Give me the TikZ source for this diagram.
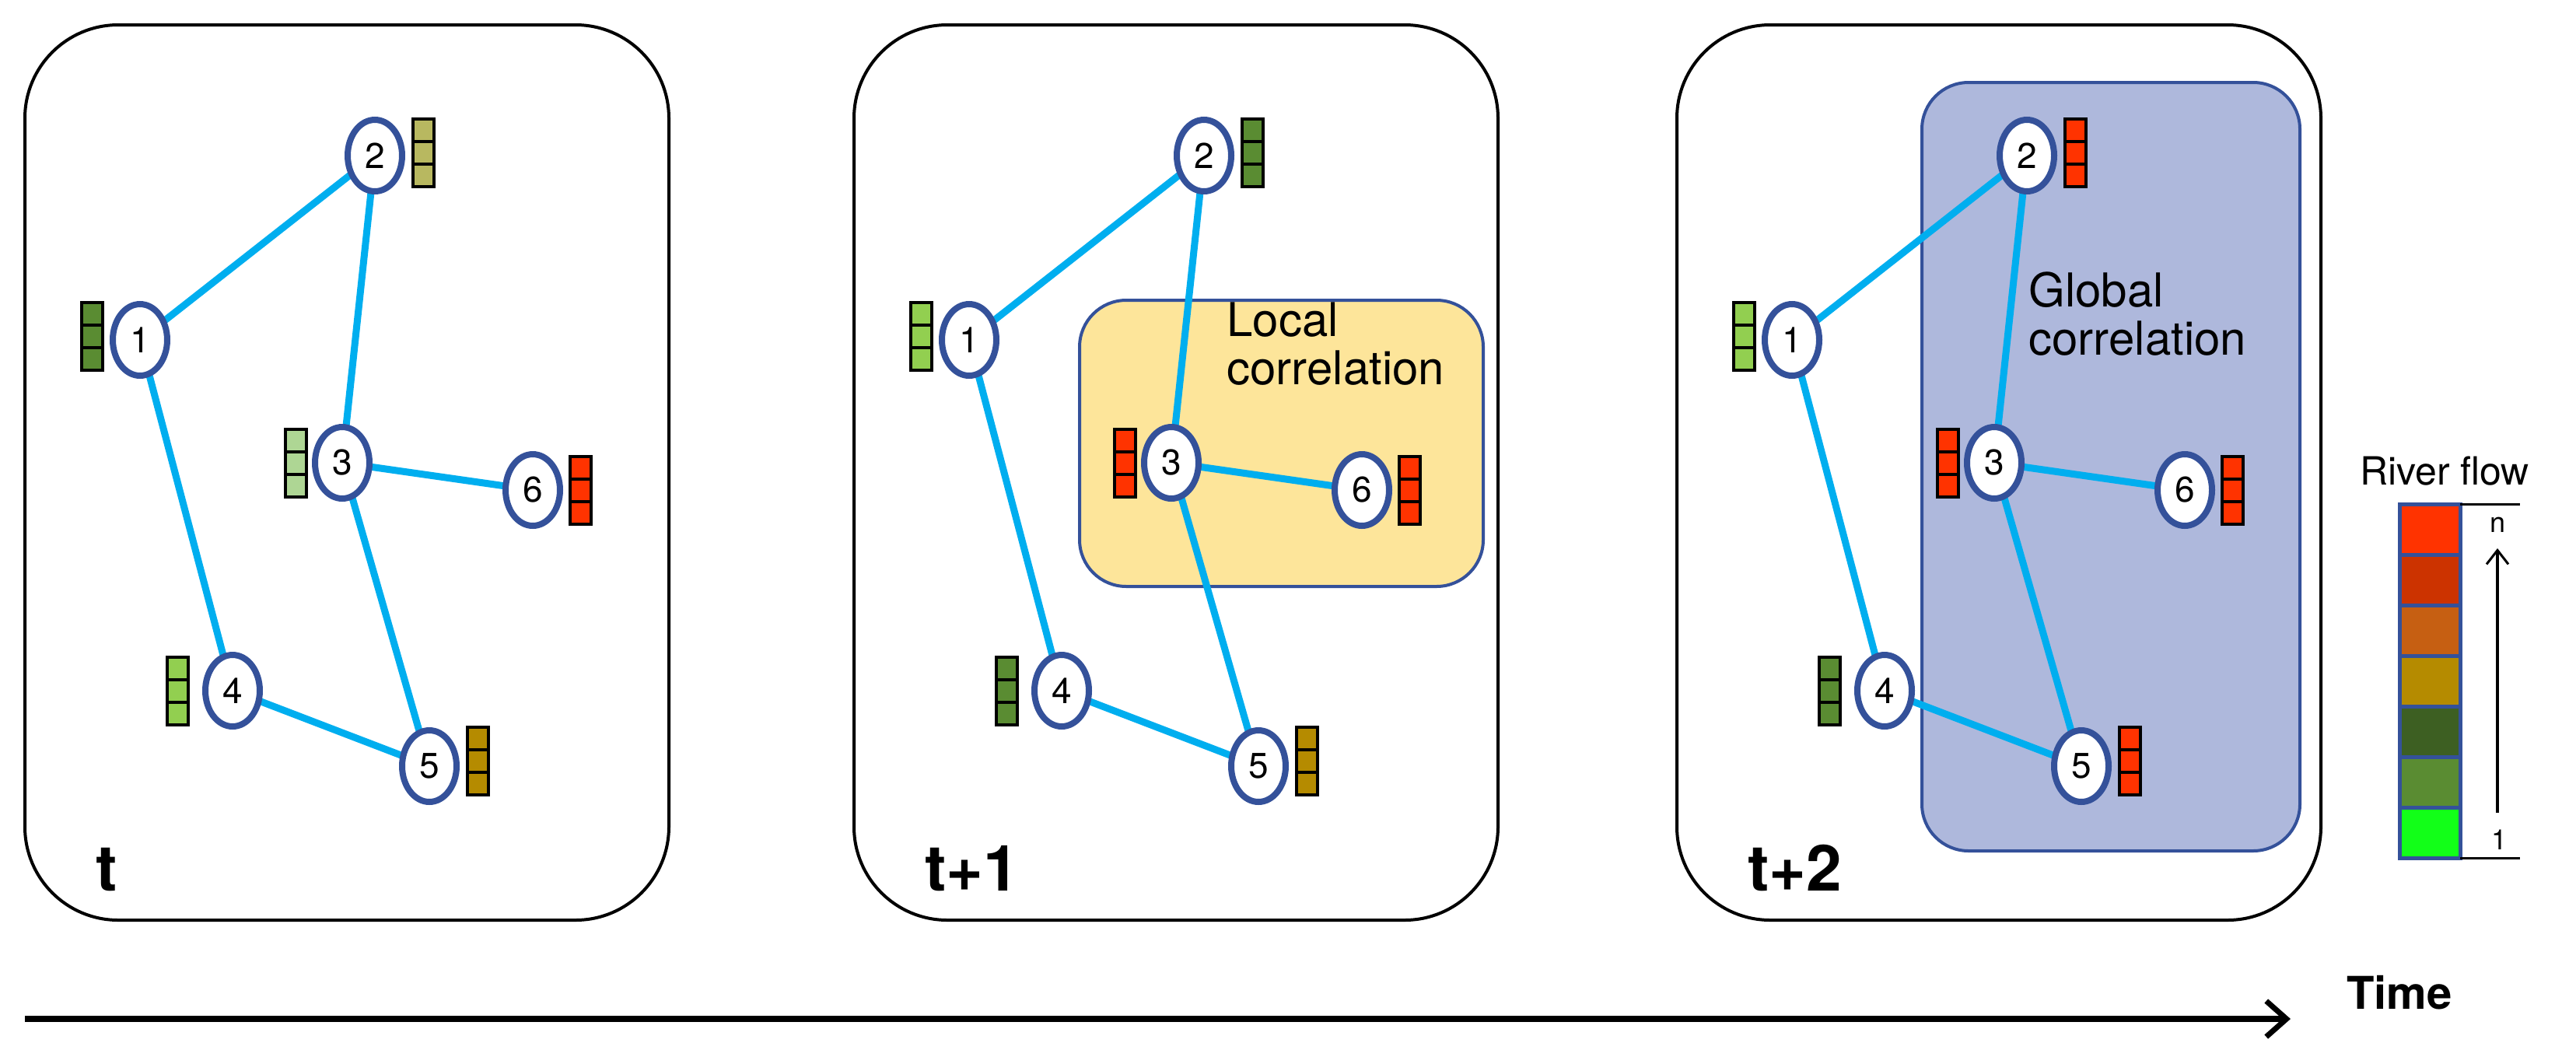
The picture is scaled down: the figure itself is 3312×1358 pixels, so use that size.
\documentclass[tikz,border=0pt]{standalone}
\usepackage{fontspec}
\setmainfont{TeX Gyre Heros}
\usetikzlibrary{shapes.geometric,arrows.meta}
\definecolor{edgeblue}{HTML}{00AEEF}
\definecolor{nodeblue}{HTML}{34519A}
\definecolor{cRed}{HTML}{FF3300}
\definecolor{cDkRed}{HTML}{CC3300}
\definecolor{cOrange}{HTML}{C65F12}
\definecolor{cGold}{HTML}{B58B00}
\definecolor{cDkGreen}{HTML}{3D5F22}
\definecolor{cGreen}{HTML}{5A8C32}
\definecolor{cLime}{HTML}{12FF18}
\definecolor{cLtGreen}{HTML}{92CF50}
\definecolor{cPale}{HTML}{AED694}
\definecolor{cOlive}{HTML}{B8B860}
\definecolor{localfill}{HTML}{FDE59A}
\definecolor{globalfill}{HTML}{AEB8DC}
\tikzset{
  gn/.style={ellipse,draw=nodeblue,line width=8pt,fill=white,minimum width=70pt,minimum height=92pt,inner sep=0pt,font=\fontsize{46}{46}\selectfont},
  ed/.style={edgeblue,line width=9pt},
  panel/.style={draw=black,line width=4pt,rounded corners=120pt},
  cell/.style={draw=black,line width=4pt,minimum width=27pt,minimum height=29pt,inner sep=0pt,anchor=center},
  plabel/.style={font=\fontsize{82}{82}\selectfont\bfseries,anchor=base west},
  corr/.style={draw=nodeblue,line width=4pt,rounded corners=60pt},
  corrtext/.style={font=\fontsize{60}{62}\selectfont,align=left,anchor=north west},
  lcell/.style={draw=nodeblue,line width=5pt,minimum width=78pt,minimum height=65pt,inner sep=0pt},
}
\newcommand{\mybar}[4]{% name, x, y, color
  \node[cell,fill=#4] (#1a) at (#2,#3-29) {};
  \node[cell,fill=#4] (#1b) at (#2,#3) {};
  \node[cell,fill=#4] (#1c) at (#2,#3+29) {};
}
\newcommand{\mygraph}[8]{% prefix, dx, colors 1..6
  \begin{scope}[xshift=#2]
  \node[gn] (#1n1) at (180,437) {1};
  \node[gn] (#1n2) at (482,200) {2};
  \node[gn] (#1n3) at (440,595) {3};
  \node[gn] (#1n6) at (685,630) {6};
  \node[gn] (#1n4) at (299,888) {4};
  \node[gn] (#1n5) at (552,985) {5};
  \mybar{#1b1}{118}{432}{#3}
  \mybar{#1b2}{544}{196}{#4}
  \mybar{#1b3}{380}{595}{#5}
  \mybar{#1b6}{746}{630}{#8}
  \mybar{#1b4}{228}{888}{#6}
  \mybar{#1b5}{614}{978}{#7}
  \end{scope}
}
\newcommand{\myedges}[1]{%
  \begin{scope}[on background layer]\end{scope}
  \draw[ed] (#1n1) -- (#1n2);
  \draw[ed] (#1n2) -- (#1n3);
  \draw[ed] (#1n1) -- (#1n4);
  \draw[ed] (#1n3) -- (#1n6);
  \draw[ed] (#1n3) -- (#1n5);
  \draw[ed] (#1n4) -- (#1n5);
}
\usetikzlibrary{backgrounds}
\begin{document}
\begin{tikzpicture}[x=1pt,y=-1pt]
\useasboundingbox (0,0) rectangle (3312,1358);
% panels
\draw[panel] (32,32) rectangle (860,1183);
\draw[panel] (1098,32) rectangle (1926,1183);
\draw[panel] (2156,32) rectangle (2984,1183);
% correlation regions
\draw[corr,fill=localfill] (1388,386) rectangle (1907,754);
\node[corrtext] (lt) at (1574,385) {Local\\correlation};
\draw[corr,fill=globalfill] (2471,106) rectangle (2957,1094);
\node[corrtext] (gt) at (2605,346) {Global\\correlation};
% edges first, then nodes drawn over by redrawing
\foreach \p/\dx in {A/0,B/1066,C/2124}{
  \coordinate (\p1) at (180+\dx,437);
  \coordinate (\p2) at (482+\dx,200);
  \coordinate (\p3) at (440+\dx,595);
  \coordinate (\p6) at (685+\dx,630);
  \coordinate (\p4) at (299+\dx,888);
  \coordinate (\p5) at (552+\dx,985);
  \draw[ed] (\p1) -- (\p2);
  \draw[ed] (\p2) -- (\p3);
  \draw[ed] (\p1) -- (\p4);
  \draw[ed] (\p3) -- (\p6);
  \draw[ed] (\p3) -- (\p5);
  \draw[ed] (\p4) -- (\p5);
}
\mygraph{A}{0}{cGreen}{cOlive}{cPale}{cLtGreen}{cGold}{cRed}
\mygraph{B}{1066}{cLtGreen}{cGreen}{cRed}{cGreen}{cGold}{cRed}
\mygraph{C}{2124}{cLtGreen}{cRed}{cRed}{cGreen}{cRed}{cRed}
% panel labels
\node[plabel] (la) at (120,1145) {t};
\node[plabel] (lb) at (1186,1145) {t+1};
\node[plabel] (lc) at (2244,1145) {t+2};
% time arrow
\coordinate (ts) at (32,1310);
\coordinate (te) at (2945,1310);
\draw[line width=8pt,-{Straight Barb[length=26pt,width=46pt,line width=7pt]}] (ts) -- (te);
\node[font=\fontsize{58}{58}\selectfont\bfseries] (time) at (3085,1276) {Time};
% legend
\node[font=\fontsize{50}{50}\selectfont] (rf) at (3143,606) {River flow};
\foreach \c [count=\i] in {cRed,cDkRed,cOrange,cGold,cDkGreen,cGreen,cLime}{
  \node[lcell,fill=\c] (L\i) at (3124,648+65*\i-32.5) {};
}
\coordinate (tkA) at (3163,648);
\coordinate (tkB) at (3240,648);
\coordinate (tkC) at (3163,1103);
\coordinate (tkD) at (3240,1103);
\draw[line width=3pt] (tkA) -- (tkB);
\draw[line width=3pt] (tkC) -- (tkD);
\coordinate (aS) at (3211,1045);
\coordinate (aE) at (3211,705);
\draw[line width=3.5pt,-{Straight Barb[length=18pt,width=28pt,line width=3pt]}] (aS) -- (aE);
\node[font=\fontsize{36}{36}\selectfont] (ln) at (3211,675) {n};
\node[font=\fontsize{36}{36}\selectfont] (l1) at (3213,1080) {1};
\end{tikzpicture}
\end{document}
